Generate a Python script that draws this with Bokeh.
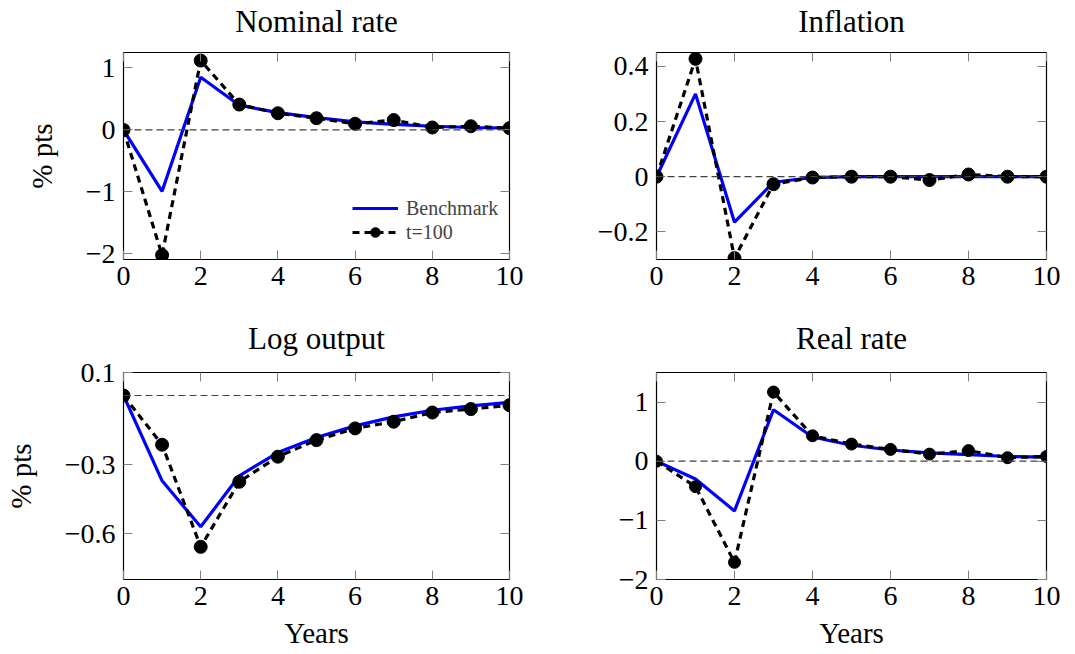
from bokeh.plotting import figure
from bokeh.layouts import column, row
from bokeh.models import Range1d, Span, FixedTicker, LinearAxis, CustomLabelingPolicy
from bokeh.embed import file_html
from bokeh.resources import INLINE

# ---------------- data ----------------
years = [0, 1, 2, 3, 4, 5, 6, 7, 8, 9, 10]
x_ticks = [0, 2, 4, 6, 8, 10]

nominal_bench = [0, -0.99, 0.85, 0.40, 0.28, 0.20, 0.13, 0.09, 0.06, 0.04, 0.03]
nominal_t100 = [0, -2.02, 1.12, 0.41, 0.27, 0.19, 0.10, 0.16, 0.04, 0.06, 0.03]

inflation_bench = [0, 0.30, -0.165, -0.02, -0.003, 0.0, 0.0, 0.0, 0.0, 0.0, 0.0]
inflation_t100 = [0, 0.427, -0.295, -0.027, -0.003, 0.0, 0.0, -0.012, 0.008, 0.0, 0.0]

output_bench = [0, -0.371, -0.571, -0.349, -0.248, -0.183, -0.132, -0.093, -0.064, -0.045, -0.030]
output_t100 = [0, -0.214, -0.658, -0.375, -0.266, -0.194, -0.143, -0.114, -0.074, -0.059, -0.042]

real_bench = [0, -0.30, -0.84, 0.87, 0.41, 0.27, 0.19, 0.14, 0.11, 0.08, 0.07]
real_t100 = [0, -0.43, -1.71, 1.17, 0.43, 0.29, 0.20, 0.12, 0.18, 0.06, 0.08]

nominal_yticks = [-2, -1, 0, 1]
nominal_ylabels = ["\u22122", "\u22121", "0", "1"]
inflation_yticks = [-0.2, 0, 0.2, 0.4]
inflation_ylabels = ["\u22120.2", "0", "0.2", "0.4"]
output_yticks = [-0.6, -0.3, 0.1]
output_ylabels = ["\u22120.6", "\u22120.3", "0.1"]
real_yticks = [-2, -1, 0, 1]
real_ylabels = ["\u22122", "\u22121", "0", "1"]

series_labels = ["Benchmark", "t=100"]
titles = ["Nominal rate", "Inflation", "Log output", "Real rate"]
y_label = "% pts"
x_label = "Years"

FONT = "Liberation Serif"
TICK_COLOR = "#808080"

NO_LABELS = CustomLabelingPolicy(code="""
for (const i of indices) { indices.unset(i) }
return indices
""")


def mirror_axis(ticks, label=None, label_gap=0):
    ax = LinearAxis(ticker=FixedTicker(ticks=ticks), axis_line_color=None,
                    major_tick_in=9, major_tick_out=0, major_tick_line_color=TICK_COLOR,
                    minor_tick_line_color=None, major_label_text_font_size="1px",
                    major_label_standoff=0, major_label_policy=NO_LABELS)
    if label:
        # the panel title is carried by the top mirror axis
        ax.axis_label = label
        ax.axis_label_standoff = label_gap
        ax.axis_label_text_font = FONT
        ax.axis_label_text_font_size = "31px"
        ax.axis_label_text_font_style = "normal"
        ax.axis_label_text_color = "black"
    return ax


def make(title, bench, t100, yr, yticks, ylabels, w, h, bl, br, bt, bb,
         ylab=None, xlab=None, legend=False, msize=13, title_gap=10):
    p = figure(width=w, height=h, x_range=Range1d(0, 10), y_range=Range1d(*yr),
               output_backend="svg", toolbar_location=None,
               min_border_left=bl, min_border_right=br,
               min_border_top=bt, min_border_bottom=bb)
    p.grid.visible = False
    p.background_fill_color = "white"
    p.border_fill_color = "white"
    p.outline_line_color = "black"
    p.outline_line_width = 1.2
    p.outline_line_alpha = 1.0

    xt = dict(zip(x_ticks, [str(v) for v in x_ticks]))
    yt = dict(zip(yticks, ylabels))

    for ax in p.xaxis:
        ax.ticker = FixedTicker(ticks=x_ticks)
        ax.major_label_overrides = xt
        ax.major_label_standoff = 7
    for ax in p.yaxis:
        ax.ticker = FixedTicker(ticks=yticks)
        ax.major_label_overrides = yt
        ax.major_label_standoff = 8
    for ax in list(p.xaxis) + list(p.yaxis):
        ax.axis_line_color = None
        ax.major_tick_in = 9
        ax.major_tick_out = 0
        ax.major_tick_line_color = TICK_COLOR
        ax.minor_tick_line_color = None
        ax.major_label_text_font = FONT
        ax.major_label_text_font_size = "28px"
        ax.major_label_text_color = "black"
        ax.axis_label_text_font = FONT
        ax.axis_label_text_font_size = "29px"
        ax.axis_label_text_font_style = "normal"
        ax.axis_label_text_color = "black"
    if ylab:
        p.yaxis.axis_label = ylab
        p.yaxis.axis_label_standoff = 25
    if xlab:
        p.xaxis.axis_label = xlab
        p.xaxis.axis_label_standoff = 9

    # mirrored inner ticks on the right and top edges (top one carries the title)
    p.add_layout(mirror_axis(yticks), "right")
    p.add_layout(mirror_axis(x_ticks, title, title_gap), "above")

    p.add_layout(Span(location=0, dimension="width", line_color="#404040",
                      line_width=1.2, line_dash="7 4"))

    kw1 = dict(legend_label=series_labels[0]) if legend else {}
    kw2 = dict(legend_label=series_labels[1]) if legend else {}
    p.line(years, bench, line_color="#0000ff", line_width=3.2, **kw1)
    p.line(years, t100, line_color="black", line_width=3.2, line_dash="7 5", **kw2)
    p.scatter(years, t100, size=msize, marker="circle", fill_color="black",
              line_color="black", **kw2)

    if legend:
        lg = p.legend[0]
        lg.location = (229, 15)
        lg.margin = 0
        lg.padding = 5
        lg.background_fill_alpha = 0
        lg.border_line_color = None
        lg.label_text_font = FONT
        lg.label_text_font_size = "20px"
        lg.glyph_width = 46
        lg.glyph_height = 24
        lg.label_height = 20
        lg.spacing = 0
        lg.label_standoff = 8
    return p


p1 = make(titles[0], nominal_bench, nominal_t100, (-2.09, 1.25), nominal_yticks, nominal_ylabels,
          540, 317, 123, 31, 52, 58, ylab=y_label, legend=True, title_gap=10)
p2 = make(titles[1], inflation_bench, inflation_t100, (-0.30, 0.45), inflation_yticks, inflation_ylabels,
          527, 317, 116, 21, 52, 58, title_gap=10)
p3 = make(titles[2], output_bench, output_t100, (-0.8, 0.1), output_yticks, output_ylabels,
          540, 337, 123, 31, 55, 75, ylab=y_label, xlab=x_label, title_gap=13)
p4 = make(titles[3], real_bench, real_t100, (-2.0, 1.5), real_yticks, real_ylabels,
          527, 337, 116, 21, 55, 75, xlab=x_label, msize=12, title_gap=13)

layout = column(row(p1, p2, spacing=0), row(p3, p4, spacing=0), spacing=0)

open("out.html", "w").write(file_html(layout, INLINE))
